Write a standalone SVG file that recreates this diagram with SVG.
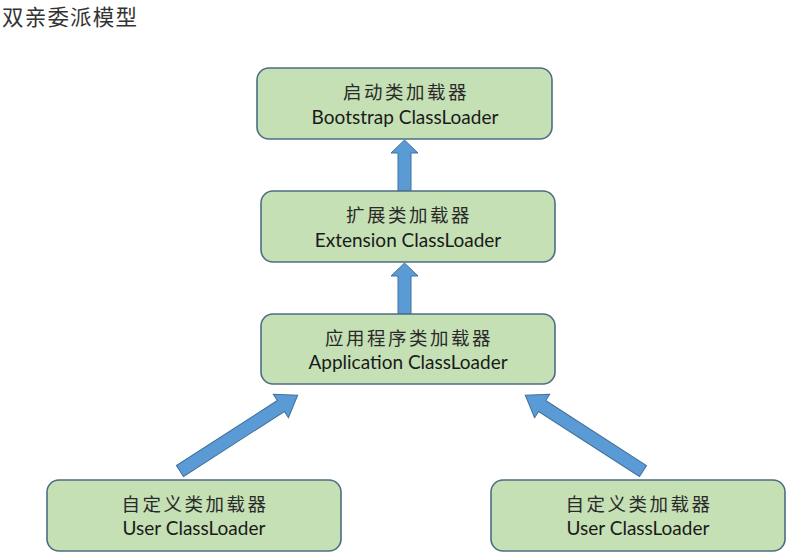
<svg xmlns="http://www.w3.org/2000/svg" width="791" height="557" viewBox="0 0 791 557">
<style>
.box{fill:#c5e0b4;stroke:#4d6d84;stroke-width:1.6}
.zh{font-family:"Noto Sans CJK SC",sans-serif;font-size:18.5px;fill:#2a2a2a;text-anchor:middle;letter-spacing:2.5px}
.en{font-family:Lato,"Liberation Sans",sans-serif;font-size:19px;fill:#1a1a1a;text-anchor:middle}
.arr{fill:#5b9bd5;stroke:#41719c;stroke-width:1}
.title{font-family:"Noto Sans CJK SC",sans-serif;font-size:21.5px;fill:#333}
</style>
<rect width="791" height="557" fill="#fff"/>
<text class="title" x="2" y="25" textLength="135">双亲委派模型</text>
<g id="connectors">
<path class="arr" d="M398,191 L398,153 L391,153 L404.5,140 L418,153 L411,153 L411,191 Z"/>
<path class="arr" d="M398,314 L398,276 L391,276 L404.5,263 L418,276 L411,276 L411,314 Z"/>
<path class="arr" transform="translate(180,471) rotate(-32.8)" d="M0,-6.5 L120,-6.5 L120,-14 L140,0 L120,14 L120,6.5 L0,6.5 Z"/>
<path class="arr" transform="translate(643,471) rotate(-147.2)" d="M0,-6.5 L120,-6.5 L120,-14 L140,0 L120,14 L120,6.5 L0,6.5 Z"/>
</g>
<g id="bootstrap">
<rect class="box" x="257" y="68" width="295" height="71" rx="12"/>
<text class="zh" x="406" y="99">启动类加载器</text>
<text class="en" x="405" y="124">Bootstrap ClassLoader</text>
</g>
<g id="extension">
<rect class="box" x="261" y="191" width="294" height="71" rx="12"/>
<text class="zh" x="409" y="222">扩展类加载器</text>
<text class="en" x="408" y="247">Extension ClassLoader</text>
</g>
<g id="application">
<rect class="box" x="261" y="314" width="294" height="70" rx="12"/>
<text class="zh" x="409" y="345">应用程序类加载器</text>
<text class="en" x="408" y="369">Application ClassLoader</text>
</g>
<g id="user1">
<rect class="box" x="47" y="480" width="294" height="71" rx="12"/>
<text class="zh" x="195" y="511">自定义类加载器</text>
<text class="en" x="194" y="535">User ClassLoader</text>
</g>
<g id="user2">
<rect class="box" x="491" y="480" width="294" height="71" rx="12"/>
<text class="zh" x="639" y="511">自定义类加载器</text>
<text class="en" x="638" y="535">User ClassLoader</text>
</g>
</svg>
